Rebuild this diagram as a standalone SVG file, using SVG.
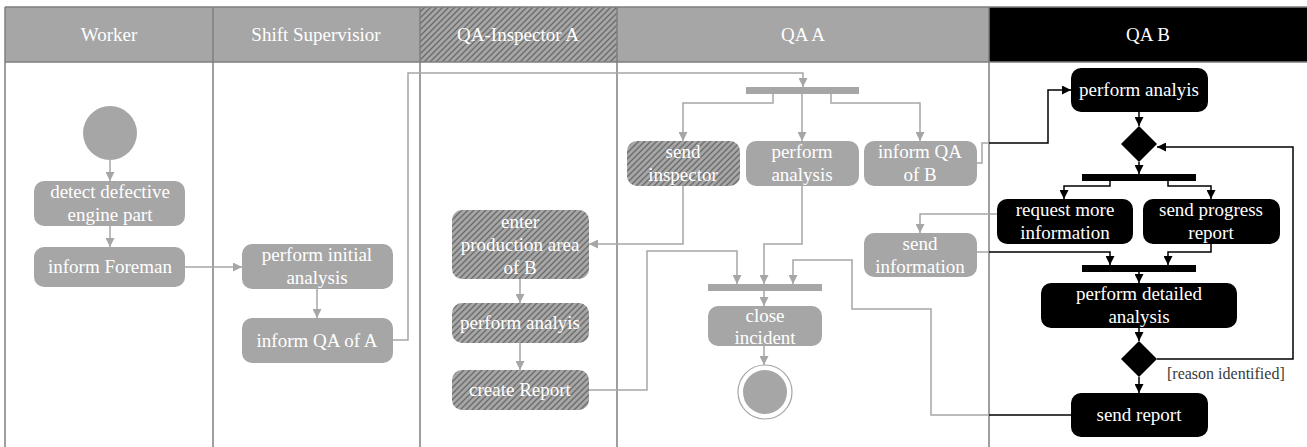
<svg xmlns="http://www.w3.org/2000/svg" width="1307" height="447" viewBox="0 0 1307 447">
<style>
.t{font-family:"Liberation Serif","Times New Roman",serif;font-size:19px;fill:#ffffff;text-anchor:middle}
.lbl{font-family:"Liberation Serif","Times New Roman",serif;font-size:16px;fill:#3a3a3a}
.g{fill:#a6a6a6}
.h{fill:url(#hatch)}
.k{fill:#000000}
.cg{fill:none;stroke:#a6a6a6;stroke-width:1.5}
.ck{fill:none;stroke:#000000;stroke-width:1.5}
.lane{stroke:#7f7f7f;stroke-width:1.5;fill:none}
</style>
<defs>
<pattern id="hatch" patternUnits="userSpaceOnUse" width="6" height="6">
<rect width="6" height="6" fill="#a6a6a6"/>
<path d="M-1,1 l2,-2 M0,6 l6,-6 M5,7 l2,-2" stroke="#6b6b6b" stroke-width="1.3"/>
</pattern>
<marker id="ag" markerUnits="userSpaceOnUse" markerWidth="9" markerHeight="9" refX="9" refY="4.5" orient="auto"><path d="M0,0 L9,4.5 L0,9 z" fill="#a6a6a6"/></marker>
<marker id="ak" markerUnits="userSpaceOnUse" markerWidth="9" markerHeight="9" refX="9" refY="4.5" orient="auto"><path d="M0,0 L9,4.5 L0,9 z" fill="#000000"/></marker>
</defs>
<rect width="1307" height="447" fill="#ffffff"/>
<g id="lanes">
<rect x="5" y="7" width="208" height="55" class="g"/>
<rect x="213" y="7" width="207" height="55" class="g"/>
<rect x="420" y="7" width="197" height="55" class="h"/>
<rect x="617" y="7" width="372" height="55" class="g"/>
<rect x="989" y="7" width="318" height="55" class="k"/>
<path class="lane" d="M5,7 H1307 M5,62 H1307 M5,7 V447 M213,7 V447 M420,7 V447 M617,7 V447 M989,7 V447"/>
<text class="t" x="109" y="41">Worker</text>
<text class="t" x="316" y="41">Shift Supervisior</text>
<text class="t" x="518" y="41">QA-Inspector A</text>
<text class="t" x="803" y="41">QA A</text>
<text class="t" x="1148" y="41">QA B</text>
</g>
<g id="connectors">
<path class="cg" marker-end="url(#ag)" d="M110,160 V181"/>
<path class="cg" marker-end="url(#ag)" d="M110,226 V247"/>
<path class="cg" marker-end="url(#ag)" d="M185,267 H242"/>
<path class="cg" marker-end="url(#ag)" d="M317,289 V318"/>
<path class="cg" marker-end="url(#ag)" d="M393,340 H408 V73 H803 V87"/>
<path class="cg" marker-end="url(#ag)" d="M773,94 V103 H683 V141"/>
<path class="cg" marker-end="url(#ag)" d="M802,94 V141"/>
<path class="cg" marker-end="url(#ag)" d="M831,94 V103 H920 V141"/>
<path class="cg" d="M977,163 H982 V143 H989"/>
<path class="ck" marker-end="url(#ak)" d="M989,143 H1048 V90 H1071"/>
<path class="cg" marker-end="url(#ag)" d="M683,186 V244 H589"/>
<path class="cg" marker-end="url(#ag)" d="M802,186 V244 H764 V284"/>
<path class="cg" marker-end="url(#ag)" d="M520,279 V303"/>
<path class="cg" marker-end="url(#ag)" d="M520,343 V370"/>
<path class="cg" marker-end="url(#ag)" d="M589,390 H647 V251 H737 V284"/>
<path class="ck" d="M1071,415 H989"/>
<path class="cg" marker-end="url(#ag)" d="M989,415 H931 V309 H852 V260 H793 V284"/>
<path class="cg" marker-end="url(#ag)" d="M764,291 V306"/>
<path class="cg" marker-end="url(#ag)" d="M764,346 V365"/>
<path class="ck" marker-end="url(#ak)" d="M1139,112 V126"/>
<path class="ck" marker-end="url(#ak)" d="M1139,162 V174"/>
<path class="ck" marker-end="url(#ak)" d="M1110,181 V186 H1064 V199"/>
<path class="ck" marker-end="url(#ak)" d="M1168,181 V186 H1211 V199"/>
<path class="cg" marker-end="url(#ag)" d="M997,214 H920 V233"/>
<path class="cg" d="M977,252 H989"/>
<path class="ck" marker-end="url(#ak)" d="M989,252 H1110 V265"/>
<path class="ck" marker-end="url(#ak)" d="M1211,244 V252 H1168 V265"/>
<path class="ck" marker-end="url(#ak)" d="M1139,272 V283"/>
<path class="ck" marker-end="url(#ak)" d="M1139,328 V341"/>
<path class="ck" marker-end="url(#ak)" d="M1139,377 V393"/>
<path class="ck" marker-end="url(#ak)" d="M1157,359 H1293 V147 H1157"/>
<text class="lbl" x="1167" y="379">[reason identified]</text>
</g>
<g id="start"><circle cx="110" cy="133" r="27" class="g"/></g>
<g id="detect"><rect x="34" y="181" width="151" height="45" rx="10" class="g"/><text class="t" x="110" y="198">detect defective</text><text class="t" x="110" y="221">engine part</text></g>
<g id="informForeman"><rect x="34" y="247" width="151" height="40" rx="10" class="g"/><text class="t" x="110" y="273">inform Foreman</text></g>
<g id="initialAnalysis"><rect x="242" y="244" width="151" height="45" rx="10" class="g"/><text class="t" x="317" y="261">perform initial</text><text class="t" x="317" y="284">analysis</text></g>
<g id="informQAofA"><rect x="242" y="318" width="151" height="45" rx="10" class="g"/><text class="t" x="317" y="347">inform QA of A</text></g>
<g id="fork1"><rect x="746" y="87" width="113" height="7" class="g"/></g>
<g id="sendInspector"><rect x="627" y="141" width="113" height="45" rx="10" class="h"/><text class="t" x="683" y="158">send</text><text class="t" x="683" y="181">inspector</text></g>
<g id="performAnalysisA"><rect x="746" y="141" width="113" height="45" rx="10" class="g"/><text class="t" x="802" y="158">perform</text><text class="t" x="802" y="181">analysis</text></g>
<g id="informQAofB"><rect x="864" y="141" width="113" height="45" rx="10" class="g"/><text class="t" x="920" y="158">inform QA</text><text class="t" x="920" y="181">of B</text></g>
<g id="enterArea"><rect x="452" y="210" width="137" height="69" rx="10" class="h"/><text class="t" x="520" y="228">enter</text><text class="t" x="520" y="251">production area</text><text class="t" x="520" y="274">of B</text></g>
<g id="performAnalyisInsp"><rect x="452" y="303" width="137" height="40" rx="10" class="h"/><text class="t" x="520" y="329">perform analyis</text></g>
<g id="createReport"><rect x="452" y="370" width="137" height="40" rx="10" class="h"/><text class="t" x="520" y="396">create Report</text></g>
<g id="sendInformation"><rect x="864" y="233" width="113" height="44" rx="10" class="g"/><text class="t" x="920" y="250">send</text><text class="t" x="920" y="273">information</text></g>
<g id="join1"><rect x="708" y="284" width="114" height="7" class="g"/></g>
<g id="closeIncident"><rect x="708" y="306" width="114" height="40" rx="10" class="g"/><text class="t" x="765" y="322">close</text><text class="t" x="765" y="344">incident</text></g>
<g id="final"><circle cx="765" cy="392" r="27" fill="#ffffff" stroke="#a6a6a6" stroke-width="1.2"/><circle cx="765" cy="392" r="22" class="g"/></g>
<g id="performAnalyisB"><rect x="1071" y="68" width="137" height="44" rx="10" class="k"/><text class="t" x="1139" y="96">perform analyis</text></g>
<g id="decision1"><path d="M1139,126 L1157,144 L1139,162 L1121,144 z" class="k"/></g>
<g id="fork2"><rect x="1082" y="174" width="114" height="7" class="k"/></g>
<g id="requestInfo"><rect x="997" y="199" width="136" height="45" rx="10" class="k"/><text class="t" x="1065" y="216">request more</text><text class="t" x="1065" y="239">information</text></g>
<g id="sendProgress"><rect x="1143" y="199" width="137" height="45" rx="10" class="k"/><text class="t" x="1211" y="216">send progress</text><text class="t" x="1211" y="239">report</text></g>
<g id="join2"><rect x="1082" y="265" width="114" height="7" class="k"/></g>
<g id="detailedAnalysis"><rect x="1041" y="283" width="196" height="45" rx="10" class="k"/><text class="t" x="1139" y="300">perform detailed</text><text class="t" x="1139" y="323">analysis</text></g>
<g id="decision2"><path d="M1139,341 L1157,359 L1139,377 L1121,359 z" class="k"/></g>
<g id="sendReport"><rect x="1071" y="393" width="137" height="44" rx="10" class="k"/><text class="t" x="1139" y="421">send report</text></g>
</svg>
